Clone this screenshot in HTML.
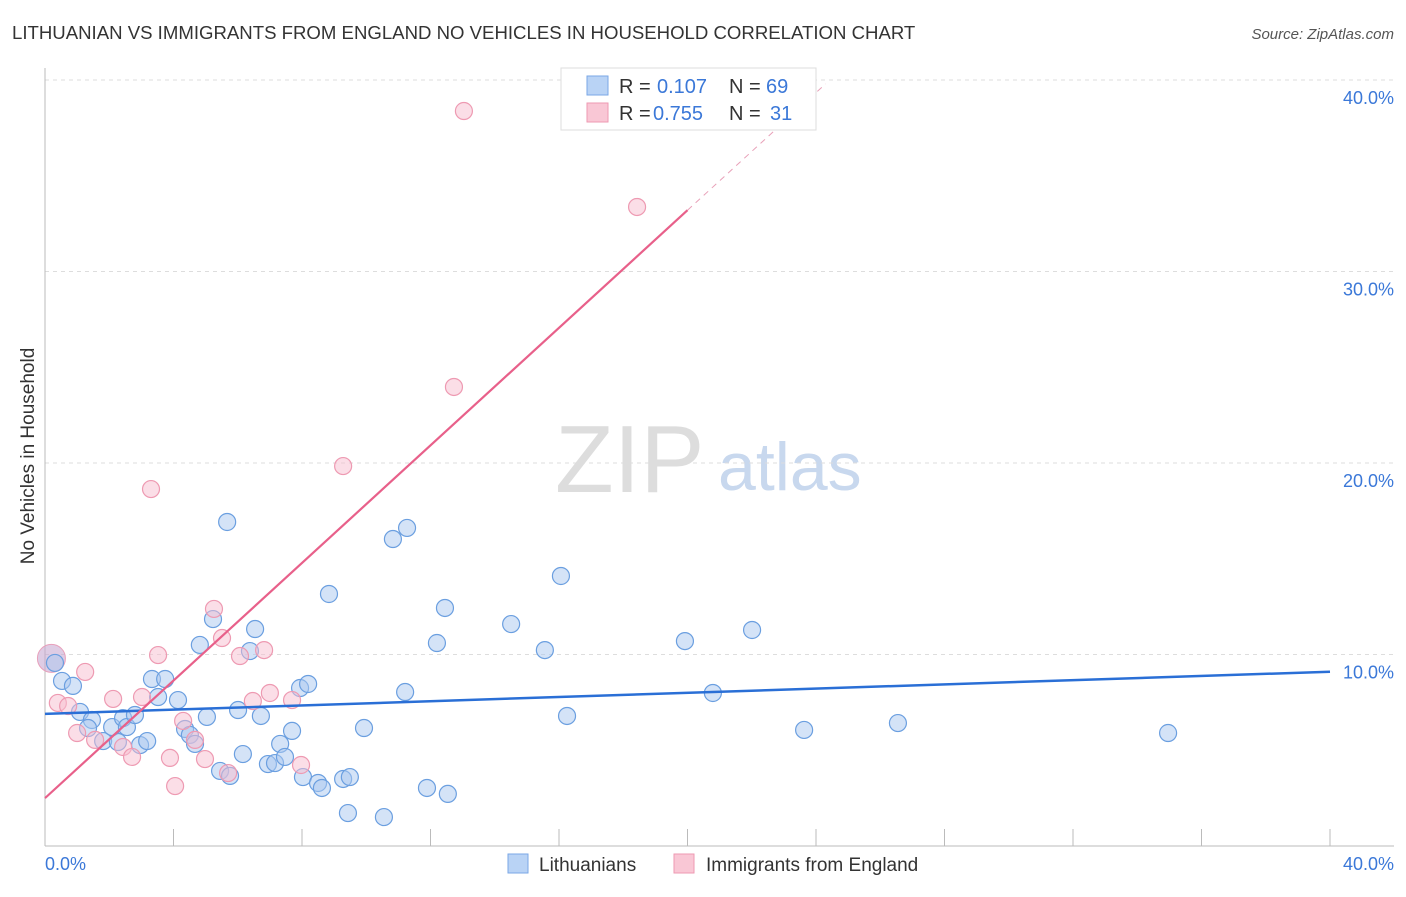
<!DOCTYPE html>
<html><head><meta charset="utf-8"><style>
body{margin:0;background:#fff;font-family:"Liberation Sans",sans-serif;}
svg text{font-family:"Liberation Sans",sans-serif;}
</style></head><body>
<svg id="c" width="1406" height="892">
<text x="12" y="39" font-size="18.6" fill="#333">LITHUANIAN VS IMMIGRANTS FROM ENGLAND NO VEHICLES IN HOUSEHOLD CORRELATION CHART</text>
<text x="1394" y="39" font-size="15" fill="#555" font-style="italic" text-anchor="end">Source: ZipAtlas.com</text>
<text x="34" y="456" font-size="19" fill="#333" transform="rotate(-90 34 456)" text-anchor="middle">No Vehicles in Household</text>
<text x="555" y="492" font-size="96" fill="#ddd" font-family="Liberation Serif">ZIP</text>
<text x="718" y="490" font-size="68" fill="#c8d8ee">atlas</text>
<g id="grid"></g><g id="pts"></g><g id="lines"></g>
<g>
<rect x="561" y="68" width="255" height="62" fill="#fff" stroke="#ddd"/>
<rect x="587" y="76" width="21" height="19" fill="#b9d3f5" stroke="#7aa7e6"/>
<rect x="587" y="103" width="21" height="19" fill="#f9c7d5" stroke="#ee9ab2"/>
<text y="93" font-size="20" fill="#333"><tspan x="619">R =</tspan><tspan x="657" fill="#3b78d8">0.107</tspan><tspan x="729">N =</tspan><tspan x="766" fill="#3b78d8">69</tspan></text>
<text y="120" font-size="20" fill="#333"><tspan x="619">R =</tspan><tspan x="653" fill="#3b78d8">0.755</tspan><tspan x="729">N =</tspan><tspan x="770" fill="#3b78d8">31</tspan></text>
</g>
<g>
<rect x="508" y="854" width="20" height="19" fill="#b9d3f5" stroke="#7aa7e6"/>
<text x="539" y="871" font-size="19" fill="#333">Lithuanians</text>
<rect x="674" y="854" width="20" height="19" fill="#f9c7d5" stroke="#ee9ab2"/>
<text x="706" y="871" font-size="19" fill="#333">Immigrants from England</text>
</g>
<text x="45" y="870" font-size="18" fill="#3b78d8">0.0%</text>
<text x="1394" y="870" font-size="18" fill="#3b78d8" text-anchor="end">40.0%</text>
</svg>
<script>
const ns="http://www.w3.org/2000/svg";
const yTicks=[10,20,30,40];
const xTicks=[0,4,8,12,16,20,24,28,32,36,40];
const bluePx=[[55,663],[62,681],[73,686],[80,712],[92,720],[88,728],[103,741],[112,727],[118,742],[123,718],[127,727],[135,715],[140,745],[147,741],[152,679],[158,697],[165,679],[178,700],[185,729],[190,735],[195,744],[200,645],[207,717],[213,619],[227,522],[220,771],[230,776],[238,710],[243,754],[250,651],[255,629],[261,716],[268,764],[275,763],[280,744],[285,757],[292,731],[300,688],[303,777],[308,684],[318,783],[322,788],[329,594],[343,779],[350,777],[348,813],[364,728],[384,817],[393,539],[405,692],[407,528],[427,788],[437,643],[445,608],[448,794],[511,624],[545,650],[561,576],[567,716],[685,641],[713,693],[752,630],[804,730],[898,723],[1168,733]];
const pinkPx=[[58,703],[68,706],[77,733],[85,672],[95,740],[113,699],[123,747],[132,757],[142,697],[151,489],[158,655],[170,758],[175,786],[183,721],[195,740],[205,759],[214,609],[222,638],[228,773],[240,656],[253,701],[264,650],[270,693],[292,700],[301,765],[343,466],[454,387],[464,111],[637,207]];
const blueX=bluePx.map(p=>+((p[0]-45)/32.125).toFixed(2)), blueY=bluePx.map(p=>+((846-p[1])/19.15).toFixed(2));
const pinkX=pinkPx.map(p=>+((p[0]-45)/32.125).toFixed(2)), pinkY=pinkPx.map(p=>+((846-p[1])/19.15).toFixed(2));
const blueTrend=[6.9,9.1], pinkTrend=[2.5,1.535];
const X=v=>45+v*32.125, Y=v=>846-v*19.15;
function mk(t,a,parent){const e=document.createElementNS(ns,t);for(const k in a)e.setAttribute(k,a[k]);document.getElementById(parent).appendChild(e);return e;}
yTicks.forEach(v=>{
 const l=mk('line',{x1:45,x2:1394,y1:Y(v),y2:Y(v),stroke:'#ddd','stroke-dasharray':'4 4'},'grid');
 
 
 const t=mk('text',{x:1394,y:Y(v)+24,'font-size':18,fill:'#3b78d8','text-anchor':'end'},'grid');
 t.textContent=v.toFixed(1)+'%';
 
 
});
xTicks.forEach(v=>{
 const l=mk('line',{x1:X(v),x2:X(v),y1:829,y2:846,stroke:'#bbb'},'grid');
 
 
});
const ax=mk('line',{x1:45,x2:45,y1:68,y2:846,stroke:'#bbb'},'grid');

const bx=mk('line',{x1:45,x2:1394,y1:846,y2:846,stroke:'#bbb'},'grid');

let big=mk('circle',{cx:X(0.2),cy:Y(9.8),r:14,fill:'rgba(200,170,210,0.6)',stroke:'#e8a0bb'},'pts');

blueX.forEach((x,i)=>{const c=mk('circle',{cx:X(x),cy:Y(blueY[i]),r:8.5,fill:'rgba(170,200,240,0.5)',stroke:'#6b9fe0','stroke-width':1.2},'pts');
 
 });
pinkX.forEach((x,i)=>{const c=mk('circle',{cx:X(x),cy:Y(pinkY[i]),r:8.5,fill:'rgba(248,190,208,0.5)',stroke:'#ee9ab2','stroke-width':1.2},'pts');
 
 });
const bl=mk('line',{x1:X(0),y1:Y(blueTrend[0]),x2:X(40),y2:Y(blueTrend[1]),stroke:'#2a6fd6','stroke-width':2.5},'lines');

const pe=20, pd=24.3;
const pl=mk('line',{x1:X(0),y1:Y(pinkTrend[0]),x2:X(pe),y2:Y(pinkTrend[0]+pinkTrend[1]*pe),stroke:'#e8608a','stroke-width':2.2},'lines');

const pd2=mk('line',{x1:X(pe),y1:Y(pinkTrend[0]+pinkTrend[1]*pe),x2:X(pd),y2:Y(pinkTrend[0]+pinkTrend[1]*pd),stroke:'#e8a0b8','stroke-width':1,'stroke-dasharray':'6 5'},'lines');

</script>
</body></html>
